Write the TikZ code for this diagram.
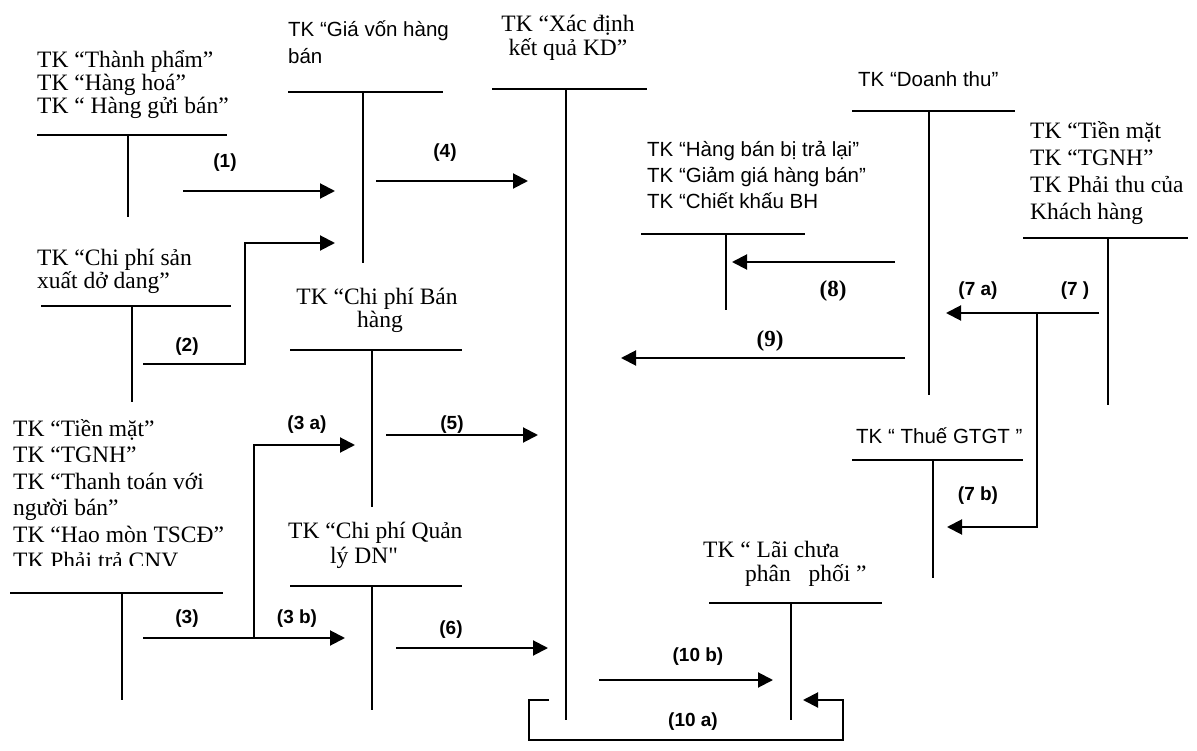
\documentclass[tikz,border=0pt]{standalone}
\usepackage{fontspec}
\setmainfont{Liberation Serif}
\newfontfamily\timesf{Liberation Serif}
\newfontfamily\arialf{Liberation Sans}
\usetikzlibrary{arrows.meta}
\begin{document}
\begin{tikzpicture}[x=1pt,y=-1pt,
  tbar/.style={line width=2.4pt},
  flow/.style={line width=2pt,-{Triangle[length=15pt,width=15pt]}},
  sr/.style={font=\timesf\fontsize{23.5}{24}\selectfont, inner sep=0},
  ss/.style={font=\arialf\fontsize{20.5}{21}\selectfont, inner sep=0},
  lbl/.style={font=\arialf\bfseries\fontsize{19}{20}\selectfont, inner sep=0},
  lbls/.style={font=\timesf\bfseries\fontsize{23}{24}\selectfont, inner sep=0},
  lw/.style={anchor=base west},
  lc/.style={anchor=base},
]
\useasboundingbox (0,0) rectangle (1197,751);

% ---------- T accounts ----------
\draw[tbar] (37,135) -- (227,135) (128,135) -- (128,217);      % Thanh pham
\draw[tbar] (288,92) -- (443,92) (363,92) -- (363,263);        % Gia von
\draw[tbar] (492,89) -- (647,89) (566,89) -- (566,720);        % Xac dinh KQ
\draw[tbar] (852,111) -- (1015,111) (929,111) -- (929,395);    % Doanh thu
\draw[tbar] (1023,238) -- (1188,238) (1108,238) -- (1108,405); % Tien mat (phai)
\draw[tbar] (641,234) -- (805,234) (726,234) -- (726,310);     % Hang ban bi tra lai
\draw[tbar] (41,306) -- (231,306) (132,306) -- (132,402);      % CP SX do dang
\draw[tbar] (290,350) -- (462,350) (372,350) -- (372,507);     % CP ban hang
\draw[tbar] (852,460) -- (1023,460) (933,460) -- (933,578);    % Thue GTGT
\draw[tbar] (10,593) -- (223,593) (122,593) -- (122,700);      % Tien mat (trai)
\draw[tbar] (290,586) -- (462,586) (372,586) -- (372,710);     % CP QLDN
\draw[tbar] (709,603) -- (882,603) (791,603) -- (791,720);     % Lai chua phan phoi

% ---------- texts ----------
\node[sr,lw] (tp1) at (37,68) {TK “Thành phẩm”};
\node[sr,lw] (tp2) at (37,91) {TK “Hàng hoá”};
\node[sr,lw] (tp3) at (37,114) {TK “ Hàng gửi bán”};

\node[ss,lw] (gv1) at (288,37) {TK “Giá vốn hàng};
\node[ss,lw] (gv2) at (288,64) {bán};

\node[sr,lc] (xd1) at (568,32) {TK “Xác định};
\node[sr,lc] (xd2) at (568,56) {kết quả KD”};

\node[ss,lw] (dt1) at (858,87) {TK “Doanh thu”};

\node[ss,lw] (hb1) at (647,157) {TK “Hàng bán bị trả lại”};
\node[ss,lw] (hb2) at (647,183) {TK “Giảm giá hàng bán”};
\node[ss,lw] (hb3) at (647,209) {TK “Chiết khấu BH};

\node[sr,lw] (tr1) at (1030,139) {TK “Tiền mặt};
\node[sr,lw] (tr2) at (1030,166) {TK “TGNH”};
\node[sr,lw] (tr3) at (1030,193) {TK Phải thu của};
\node[sr,lw] (tr4) at (1030,220) {Khách hàng};

\node[sr,lw] (sx1) at (37,266) {TK “Chi phí sản};
\node[sr,lw] (sx2) at (37,289) {xuất dở dang”};

\node[sr,lc] (bh1) at (377,305) {TK “Chi phí Bán};
\node[sr,lc] (bh2) at (380,328) {hàng};

\node[sr,lw] (tl1) at (13,436) {TK “Tiền mặt”};
\node[sr,lw] (tl2) at (13,462) {TK “TGNH”};
\node[sr,lw] (tl3) at (13,489) {TK “Thanh toán với};
\node[sr,lw] (tl4) at (13,515) {người bán”};
\node[sr,lw] (tl5) at (13,542) {TK “Hao mòn TSCĐ”};
\begin{scope}
\clip (0,545) rectangle (260,565);
\node[sr,lw] (tl6) at (13,568) {TK Phải trả CNV};
\end{scope}

\node[ss,lw] (th1) at (856,443) {TK “ Thuế GTGT ”};

\node[sr,lw] (ql1) at (288,538) {TK “Chi phí Quản};
\node[sr,lc] (ql2) at (364,563) {lý DN"};

\node[sr,lw] (lc1) at (703,557) {TK “ Lãi chưa};
\node[sr,lw] (lc2) at (745,581) {phân \ \ phối ”};

% ---------- connectors ----------
\coordinate (a1s) at (183,191); \coordinate (a1e) at (335,191);
\draw[flow] (a1s) -- (a1e);
\node[lbl] (l1) at (225,163) {(1)};

\coordinate (a4s) at (376,181); \coordinate (a4e) at (528,181);
\draw[flow] (a4s) -- (a4e);
\node[lbl] (l4) at (445,153) {(4)};

\coordinate (a2s) at (143,364); \coordinate (a2c) at (245,243); \coordinate (a2e) at (335,243);
\draw[flow] (a2s) -| (a2c) -- (a2e);
\node[lbl] (l2) at (187,347) {(2)};

\coordinate (a3s) at (143,638); \coordinate (a3e) at (345,638);
\coordinate (a3j) at (254,638); \coordinate (a3ae) at (355,445);
\draw[flow] (a3s) -- (a3e);
\draw[flow] (a3j) |- (a3ae);
\node[lbl] (l3) at (187,619) {(3)};
\node[lbl] (l3a) at (307,425) {(3 a)};
\node[lbl] (l3b) at (297,619) {(3 b)};

\coordinate (a5s) at (386,435); \coordinate (a5e) at (538,435);
\draw[flow] (a5s) -- (a5e);
\node[lbl] (l5) at (452,425) {(5)};

\coordinate (a6s) at (396,648); \coordinate (a6e) at (548,648);
\draw[flow] (a6s) -- (a6e);
\node[lbl] (l6) at (451,630) {(6)};

\coordinate (a7s) at (1099,313); \coordinate (a7e) at (946,313);
\coordinate (a7j) at (1037,313); \coordinate (a7be) at (947,527);
\draw[flow] (a7s) -- (a7e);
\draw[flow] (a7j) |- (a7be);
\node[lbl] (l7a) at (978,291) {(7 a)};
\node[lbl] (l7) at (1075,291) {(7 )};
\node[lbl] (l7b) at (978,496) {(7 b)};

\coordinate (a8s) at (895,262); \coordinate (a8e) at (732,262);
\draw[flow] (a8s) -- (a8e);
\node[lbls] (l8) at (833,291) {(8)};

\coordinate (a9s) at (905,358); \coordinate (a9e) at (621,358);
\draw[flow] (a9s) -- (a9e);
\node[lbls] (l9) at (770,341) {(9)};

\coordinate (a10bs) at (599,680); \coordinate (a10be) at (773,680);
\draw[flow] (a10bs) -- (a10be);
\node[lbl] (l10b) at (698,657) {(10 b)};

\coordinate (a10s) at (549,700); \coordinate (a10c1) at (529,740);
\coordinate (a10c2) at (843,700); \coordinate (a10e) at (803,700);
\draw[flow] (a10s) -| (a10c1) -| (a10c2) -- (a10e);
\node[lbl] (l10a) at (693,722) {(10 a)};
\end{tikzpicture}
\end{document}
